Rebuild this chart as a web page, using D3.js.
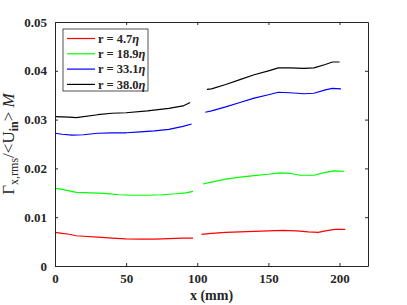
<!DOCTYPE html>
<html>
<head>
<meta charset="utf-8">
<script src="https://cdn.jsdelivr.net/npm/d3@7"></script>
<style>
body { margin: 0; background: #fff; }
text { font-family: "Liberation Serif", "Times New Roman", serif; }
</style>
</head>
<body>
<div id="chart"></div>
<script>
// values, two runs split at the gap near x = 100 mm
const labels = ["4.7", "18.9", "33.1", "38.0"];
const colors = ["#ff0000", "#00ff00", "#0000ff", "#000000"];

const x47 = [0, 5, 10, 15, 20, 30, 40, 50, 60, 70, 80, 90, 97,
             103, 110, 120, 130, 140, 150, 160, 170, 178, 185, 192, 197, 204];
const y47 = [0.0069, 0.0067, 0.0065, 0.0062, 0.0061, 0.0059, 0.0057, 0.00555, 0.0055, 0.0055, 0.0056, 0.0057, 0.0057,
             0.0065, 0.0067, 0.0069, 0.0070, 0.0071, 0.0072, 0.0073, 0.0072, 0.0070, 0.0069, 0.0073, 0.0075, 0.0075];

const x189 = [0, 5, 10, 15, 25, 35, 45, 55, 65, 75, 85, 92, 97,
              104, 110, 120, 130, 140, 150, 158, 165, 172, 182, 190, 196, 203];
const y189 = [0.0159, 0.0157, 0.0154, 0.0151, 0.0150, 0.0149, 0.0146, 0.0145, 0.0145, 0.0146, 0.0148, 0.0150, 0.0153,
              0.0168, 0.0172, 0.0178, 0.0182, 0.0185, 0.0188, 0.0191, 0.0190, 0.0186, 0.0186, 0.0192, 0.0195, 0.0194];

const x331 = [0, 5, 12, 20, 30, 40, 50, 60, 70, 80, 90, 96,
              105.6, 110, 120, 130, 140, 150, 157, 165, 175, 182, 190, 195, 201];
const y331 = [0.0272, 0.0270, 0.0268, 0.0269, 0.0272, 0.0273, 0.0273, 0.0275, 0.0277, 0.0280, 0.0286, 0.0291,
              0.0315, 0.0318, 0.0326, 0.0335, 0.0344, 0.0351, 0.0356, 0.0355, 0.0353, 0.0354, 0.0361, 0.0364, 0.0363];

const x380 = [0, 10, 15, 30, 40, 50, 65, 80, 90, 95,
              106.8, 110, 120, 130, 140, 150, 157, 165, 175, 182, 190, 195, 200];
const y380 = [0.0306, 0.0305, 0.0304, 0.0310, 0.0313, 0.0314, 0.0318, 0.0323, 0.0328, 0.0335,
              0.0362, 0.0363, 0.0372, 0.0382, 0.0392, 0.0400, 0.0406, 0.0406, 0.0405, 0.0406, 0.0413, 0.0418, 0.0418];

const xTicks = [0, 50, 100, 150, 200];
const yTicks = [0, 0.01, 0.02, 0.03, 0.04, 0.05];
const gapX = 100;

const W = 407, H = 305;
const margin = {top: 22, right: 39, bottom: 39, left: 55};
const width = W - margin.left - margin.right,
      height = H - margin.top - margin.bottom;
const axisColor = "#262626";

const svg = d3.select("#chart").append("svg")
    .attr("width", W)
    .attr("height", H);

const g = svg.append("g")
    .attr("transform", "translate(" + margin.left + "," + margin.top + ")");

const x = d3.scaleLinear().domain([0, 220]).range([0, width]);
const y = d3.scaleLinear().domain([0, 0.05]).range([height, 0]);

// series lines
const series = [[x47, y47], [x189, y189], [x331, y331], [x380, y380]];
const line = d3.line().x(d => x(d[0])).y(d => y(d[1]));

series.forEach((s, i) => {
  const pts = s[0].map((v, j) => [v, s[1][j]]);
  const parts = [pts.filter(p => p[0] < gapX), pts.filter(p => p[0] > gapX)];
  g.selectAll(".s" + i)
    .data(parts)
    .enter()
    .append("path")
    .attr("class", "s" + i)
    .attr("fill", "none")
    .attr("stroke", colors[i])
    .attr("stroke-width", 1.2)
    .attr("stroke-linejoin", "round")
    .attr("d", line);
});

// axes, ticks pointing inward like matlab
const tickFont = 13;
const axB = g.append("g")
    .attr("transform", "translate(0," + height + ")")
    .call(d3.axisBottom(x).tickValues(xTicks).tickSize(-3).tickPadding(8).tickSizeOuter(0));
const axT = g.append("g")
    .call(d3.axisTop(x).tickValues(xTicks).tickSize(-3).tickFormat("").tickSizeOuter(0));
const axL = g.append("g")
    .call(d3.axisLeft(y).tickValues(yTicks).tickSize(-3).tickPadding(8).tickSizeOuter(0)
      .tickFormat(d => d === 0 ? "0" : d3.format(".2f")(d)));
const axR = g.append("g")
    .attr("transform", "translate(" + width + ",0)")
    .call(d3.axisRight(y).tickValues(yTicks).tickSize(-3).tickFormat("").tickSizeOuter(0));

[axB, axT, axL, axR].forEach(a => {
  a.select(".domain").attr("stroke", axisColor).attr("stroke-width", 1);
  a.selectAll(".tick line").attr("stroke", axisColor);
  a.selectAll(".tick text")
    .attr("fill", axisColor)
    .style("font-family", "'Liberation Serif', 'Times New Roman', serif")
    .style("font-size", tickFont + "px")
    .style("font-weight", "bold");
});

// x label
g.append("text")
  .attr("x", width / 2)
  .attr("y", height + 34)
  .attr("text-anchor", "middle")
  .attr("fill", axisColor)
  .style("font-size", "14px")
  .style("font-weight", "bold")
  .text("x (mm)");

// y label
const yl = svg.append("text")
  .attr("transform", "translate(14," + (margin.top + height / 2) + ") rotate(-90)")
  .attr("text-anchor", "middle")
  .attr("fill", axisColor)
  .style("font-size", "17px");
yl.append("tspan").text("Γ");
yl.append("tspan").attr("dy", 4).style("font-size", "12px").text("x,rms");
yl.append("tspan").attr("dy", -4).text("/<U");
yl.append("tspan").attr("dy", 4).style("font-size", "12px").style("font-weight", "bold").text("in");
yl.append("tspan").attr("dy", -4).text("> ");
yl.append("tspan").style("font-style", "italic").text("M");

// legend
const lg = svg.append("g").attr("transform", "translate(63,29)");
lg.append("rect")
  .attr("width", 85)
  .attr("height", 62)
  .attr("fill", "#fff")
  .attr("stroke", axisColor)
  .attr("stroke-width", 0.8);

const rows = lg.selectAll(".row")
  .data(labels)
  .enter()
  .append("g")
  .attr("class", "row")
  .attr("transform", (d, i) => "translate(0," + (9.5 + i * 15.3) + ")");

rows.append("line")
  .attr("x1", 4).attr("x2", 32)
  .attr("stroke", (d, i) => colors[i])
  .attr("stroke-width", 1.2);

const lt = rows.append("text")
  .attr("x", 35)
  .attr("dy", "0.35em")
  .attr("fill", axisColor)
  .style("font-size", "12.5px")
  .style("font-weight", "bold");
lt.append("tspan").text(d => "r = " + d);
lt.append("tspan").style("font-style", "italic").text("η");
</script>
</body>
</html>
